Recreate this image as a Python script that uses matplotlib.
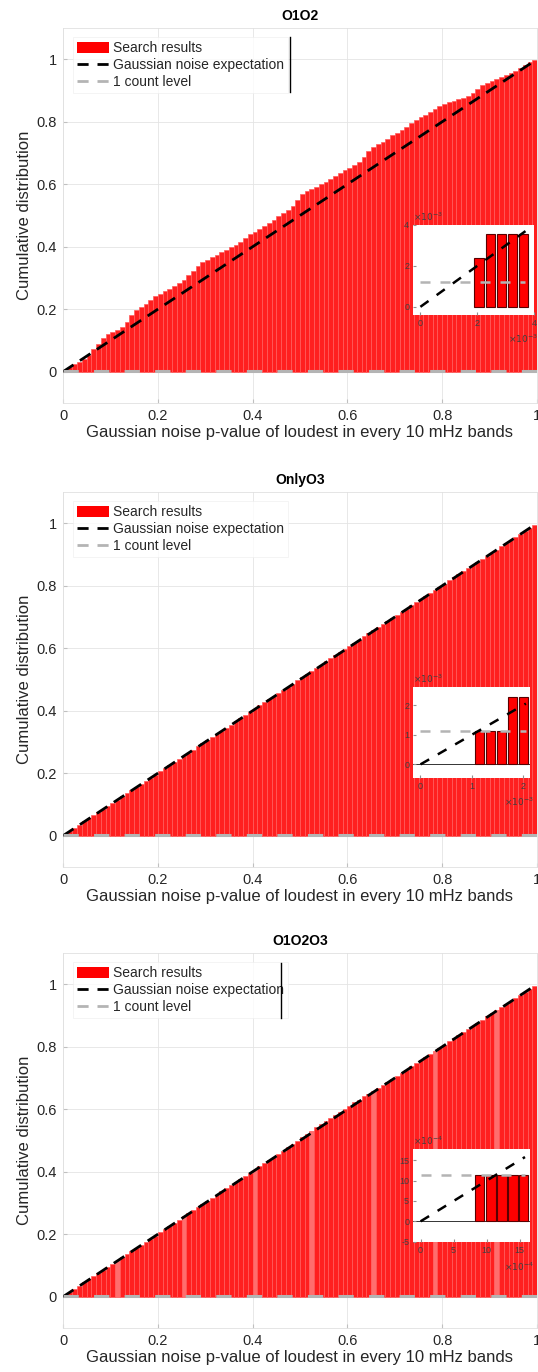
import matplotlib
matplotlib.use("Agg")
import matplotlib.pyplot as plt
import numpy as np
from matplotlib.patches import Patch
from matplotlib.lines import Line2D
from matplotlib.ticker import FuncFormatter

plt.rcParams['font.family'] = ['Liberation Sans', 'DejaVu Sans']

# ---------------- data ----------------
titles = ["O1O2", "OnlyO3", "O1O2O3"]
xlabel = "Gaussian noise p-value of loudest in every 10 mHz bands"
ylabel = "Cumulative distribution"
legend_labels = ["Search results", "Gaussian noise expectation", "1 count level"]

bin_centers = [round(0.005 + 0.01 * i, 3) for i in range(100)]
bin_width = 0.01

cdf_o1o2 = [
    0.006, 0.016, 0.024, 0.030, 0.040, 0.055, 0.072, 0.088, 0.108, 0.122,
    0.128, 0.133, 0.142, 0.158, 0.180, 0.196, 0.207, 0.216, 0.230, 0.241,
    0.250, 0.257, 0.266, 0.275, 0.283, 0.294, 0.308, 0.322, 0.337, 0.350,
    0.358, 0.366, 0.374, 0.383, 0.390, 0.398, 0.406, 0.416, 0.428, 0.440,
    0.447, 0.456, 0.466, 0.476, 0.486, 0.497, 0.507, 0.517, 0.530, 0.548,
    0.568, 0.578, 0.585, 0.592, 0.600, 0.607, 0.617, 0.627, 0.636, 0.644,
    0.651, 0.660, 0.672, 0.688, 0.706, 0.720, 0.728, 0.736, 0.746, 0.756,
    0.764, 0.774, 0.784, 0.795, 0.805, 0.814, 0.822, 0.830, 0.840, 0.850,
    0.856, 0.862, 0.867, 0.872, 0.877, 0.882, 0.893, 0.905, 0.916, 0.924,
    0.930, 0.937, 0.943, 0.949, 0.956, 0.963, 0.972, 0.981, 0.990, 0.998,
]
cdf_onlyo3 = [
    0.006, 0.016, 0.025, 0.036, 0.046, 0.056, 0.066, 0.075, 0.085, 0.095,
    0.106, 0.116, 0.126, 0.136, 0.146, 0.156, 0.165, 0.175, 0.186, 0.196,
    0.206, 0.216, 0.226, 0.236, 0.246, 0.256, 0.266, 0.276, 0.286, 0.296,
    0.306, 0.316, 0.326, 0.336, 0.346, 0.356, 0.366, 0.377, 0.387, 0.397,
    0.407, 0.417, 0.427, 0.437, 0.447, 0.457, 0.467, 0.477, 0.487, 0.497,
    0.507, 0.517, 0.527, 0.537, 0.548, 0.558, 0.568, 0.578, 0.588, 0.598,
    0.608, 0.618, 0.628, 0.638, 0.648, 0.657, 0.667, 0.677, 0.687, 0.697,
    0.707, 0.717, 0.727, 0.737, 0.747, 0.757, 0.767, 0.777, 0.787, 0.797,
    0.807, 0.817, 0.827, 0.837, 0.847, 0.857, 0.866, 0.876, 0.886, 0.896,
    0.906, 0.916, 0.926, 0.936, 0.946, 0.956, 0.966, 0.976, 0.986, 0.996,
]
cdf_o1o2o3 = [
    0.006, 0.016, 0.026, 0.036, 0.046, 0.056, 0.066, 0.076, 0.086, 0.096,
    0.106, 0.116, 0.126, 0.136, 0.146, 0.156, 0.166, 0.176, 0.186, 0.196,
    0.206, 0.216, 0.226, 0.236, 0.246, 0.257, 0.267, 0.277, 0.287, 0.297,
    0.307, 0.317, 0.327, 0.337, 0.347, 0.357, 0.367, 0.377, 0.387, 0.397,
    0.407, 0.417, 0.427, 0.437, 0.447, 0.457, 0.467, 0.478, 0.489, 0.500,
    0.510, 0.520, 0.531, 0.542, 0.552, 0.562, 0.572, 0.582, 0.592, 0.602,
    0.612, 0.622, 0.631, 0.641, 0.650, 0.660, 0.669, 0.679, 0.688, 0.698,
    0.707, 0.717, 0.727, 0.737, 0.747, 0.757, 0.767, 0.777, 0.787, 0.797,
    0.807, 0.817, 0.827, 0.837, 0.847, 0.857, 0.867, 0.877, 0.887, 0.897,
    0.907, 0.917, 0.927, 0.937, 0.947, 0.957, 0.966, 0.976, 0.986, 0.996,
]
cdfs = [cdf_o1o2, cdf_onlyo3, cdf_o1o2o3]
count_levels = [0.00119, 0.00114, 0.00115]

# insets (zoom on the smallest p-values)
inset_x = [
    [2.06e-3, 2.46e-3, 2.86e-3, 3.24e-3, 3.62e-3],
    [1.15e-3, 1.36e-3, 1.57e-3, 1.785e-3, 2.0e-3],
    [8.9e-4, 10.65e-4, 12.3e-4, 13.95e-4, 15.55e-4],
]
inset_h = [
    [2.38e-3, 3.57e-3, 3.57e-3, 3.57e-3, 3.57e-3],
    [1.14e-3, 1.14e-3, 1.14e-3, 2.28e-3, 2.28e-3],
    [11.4e-4, 11.4e-4, 11.4e-4, 11.4e-4, 11.4e-4],
]
inset_w = [0.33e-3, 0.18e-3, 1.45e-4]
inset_xlim = [(-0.25e-3, 4.0e-3), (-0.14e-3, 2.13e-3), (-1.1e-4, 16.56e-4)]
inset_ylim = [(-0.4e-3, 4.0e-3), (-0.45e-3, 2.6e-3), (-5e-4, 17.7e-4)]
inset_xticks = [[0, 2e-3, 4e-3], [0, 1e-3, 2e-3], [0, 5e-4, 10e-4, 15e-4]]
inset_yticks = [[0, 2e-3, 4e-3], [0, 1e-3, 2e-3], [-5e-4, 0, 5e-4, 10e-4, 15e-4]]
inset_exponent = [-3, -3, -4]
inset_line_end = [3.7e-3, 2.05e-3, 15.8e-4]
inset_baseline = [False, True, True]

# pale stripes visible in the O1O2O3 panel
pale_bars = [11, 25, 40, 52, 65, 78, 91]

# ---------------- layout ----------------
W, H = 538, 1372
fig = plt.figure(figsize=(W / 100, H / 100), dpi=100)

ax_left = 63 / W
ax_w = 474 / W
ax_h = 375 / H
ax_bottoms = [1 - 403 / H, 1 - 867 / H, 1 - 1328 / H]
inset_boxes = [
    (413.3 / W, 1 - 315 / H, (534 - 413.3) / W, 90 / H),
    (413.3 / W, 1 - 777.7 / H, (530 - 413.3) / W, 90.4 / H),
    (413.3 / W, 1 - 1241.7 / H, (530 - 413.3) / W, 92.4 / H),
]
legend_line = [(0.478, 0.829, 0.976), None, (0.460, 0.827, 0.973)]

red = '#ff1f1f'
txt = '#262626'


def scaled(exp):
    return FuncFormatter(lambda v, p: "%g" % round(v / 10.0 ** exp, 6))


for k in range(3):
    ax = fig.add_axes([ax_left, ax_bottoms[k], ax_w, ax_h])
    ax.set_axisbelow(True)
    cols = [('#ff6e6e' if (k == 2 and i in pale_bars) else red) for i in range(len(bin_centers))]
    ax.bar(bin_centers, cdfs[k], width=bin_width, color=cols,
           edgecolor='#ff5c5c', linewidth=0.5, zorder=2)
    ax.plot([0, 1], [0, 1], color='black', lw=2.0, dashes=(4.5, 2.8), zorder=4)
    ax.plot([0, 1], [count_levels[k], count_levels[k]], color='#b4b4b4', lw=2.2,
            dashes=(5, 5), zorder=4)
    ax.set_xlim(0, 1)
    ax.set_ylim(-0.1, 1.1)
    ax.set_xticks([0, 0.2, 0.4, 0.6, 0.8, 1])
    ax.set_xticklabels(["0", "0.2", "0.4", "0.6", "0.8", "1"])
    ax.set_yticks([0, 0.2, 0.4, 0.6, 0.8, 1])
    ax.set_yticklabels(["0", "0.2", "0.4", "0.6", "0.8", "1"])
    ax.grid(True, color='#e4e4e4', lw=0.6)
    ax.tick_params(direction='in', length=3, color='#c0c0c0', labelsize=10.5,
                   labelcolor=txt, pad=4.5)
    for s in ax.spines.values():
        s.set_color('#e0e0e0')
        s.set_linewidth(0.6)
    ax.set_title(titles[k], fontsize=10, fontweight='bold', color='black', pad=6)
    ax.set_xlabel(xlabel, fontsize=12, color=txt, labelpad=1)
    ax.set_ylabel(ylabel, fontsize=12, color=txt, labelpad=3)

    handles = [Patch(facecolor='#ff0000', edgecolor='none'),
               Line2D([], [], color='black', lw=2.0, dashes=(4.0, 3.2)),
               Line2D([], [], color='#b4b4b4', lw=2.0, dashes=(4.0, 3.2))]
    leg = ax.legend(handles, legend_labels, loc='upper left',
                    bbox_to_anchor=(0.021, 0.976), fontsize=10,
                    handlelength=2.3, handleheight=0.8, handletextpad=0.3,
                    labelspacing=0.22, borderpad=0.3, borderaxespad=0,
                    frameon=True, fancybox=False)
    leg.get_frame().set_edgecolor('#ececec')
    leg.get_frame().set_linewidth(0.5)
    for t in leg.get_texts():
        t.set_color(txt)
    if legend_line[k] is not None:
        lx, ly0, ly1 = legend_line[k]
        ax.add_line(Line2D([lx, lx], [ly0, ly1], transform=ax.transAxes,
                           color='black', lw=1.0, zorder=10))

    # inset
    ia = fig.add_axes(inset_boxes[k])
    ia.set_facecolor('white')
    ia.bar(inset_x[k], inset_h[k], width=inset_w[k], color='#ff0000',
           edgecolor='#5a0000', linewidth=0.8, zorder=2)
    e = inset_line_end[k]
    ia.plot([0, e], [0, e], color='black', lw=1.8, dashes=(4, 4), zorder=4)
    ia.plot([0, e], [count_levels[k], count_levels[k]], color='#b4b4b4', lw=1.8,
            dashes=(4, 4), zorder=3)
    if inset_baseline[k]:
        ia.axhline(0, color='#333333', lw=0.7, zorder=1)
    ia.set_xlim(*inset_xlim[k])
    ia.set_ylim(*inset_ylim[k])
    ia.set_xticks(inset_xticks[k])
    ia.set_yticks(inset_yticks[k])
    ex = inset_exponent[k]
    ia.xaxis.set_major_formatter(scaled(ex))
    ia.yaxis.set_major_formatter(scaled(ex))
    ia.tick_params(direction='in', length=2, color='#909090', labelsize=6.5,
                   labelcolor='#404040', pad=3)
    off = r"$\times 10^{%d}$" % ex
    ia.text(0.0, 1.02, off, transform=ia.transAxes, ha='left', va='bottom',
            fontsize=6.5, color='#404040')
    ia.text(1.03, -0.2, off, transform=ia.transAxes, ha='right', va='top',
            fontsize=6.5, color='#404040')
    for s in ia.spines.values():
        s.set_visible(False)

fig.savefig("out.png", dpi=100)
